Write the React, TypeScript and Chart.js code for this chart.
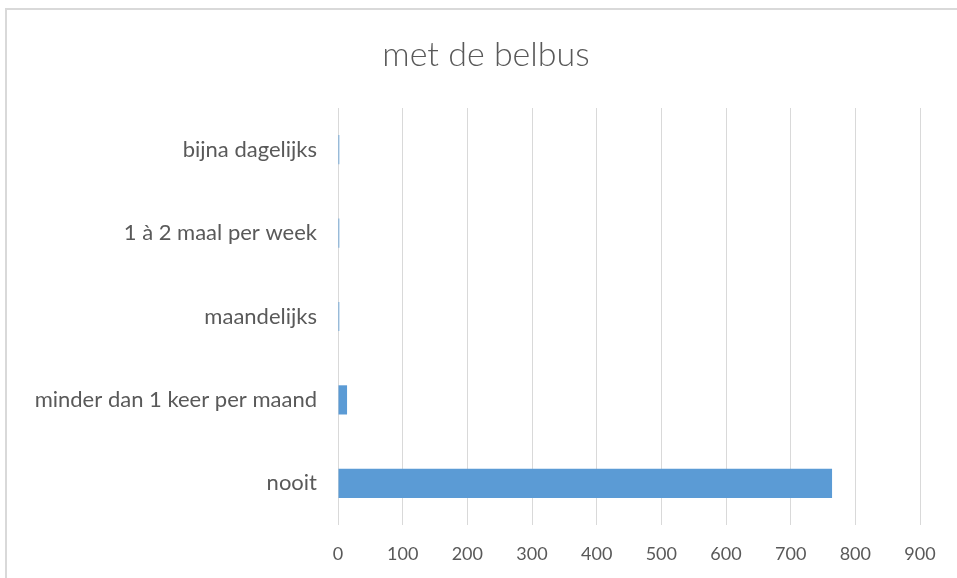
import React, { useEffect, useRef } from "react";
import { Chart, registerables } from "chart.js";

Chart.register(...registerables);

const title = "met de belbus";
const categories = [
  "bijna dagelijks",
  "1 à 2 maal per week",
  "maandelijks",
  "minder dan 1 keer per maand",
  "nooit",
];
const values = [2, 2, 2, 14, 764];
const xTicks = [0, 100, 200, 300, 400, 500, 600, 700, 800, 900];

const titlePlugin = {
  id: "customTitle",
  afterDraw(chart: any) {
    const ctx = chart.ctx;
    ctx.save();
    ctx.fillStyle = "#595959";
    ctx.font = "300 34px Lato";
    ctx.textAlign = "center";
    ctx.textBaseline = "middle";
    ctx.fillText(title, 486, 55);
    ctx.restore();
  },
};

export default function App() {
  const ref = useRef<HTMLCanvasElement | null>(null);

  useEffect(() => {
    if (!ref.current) return;
    const chart = new Chart(ref.current, {
      type: "bar",
      data: {
        labels: categories,
        datasets: [
          {
            data: values,
            backgroundColor: "#5B9BD5",
            borderWidth: 0,
            barPercentage: 0.35,
            categoryPercentage: 1,
          },
        ],
      },
      plugins: [titlePlugin],
      options: {
        indexAxis: "y",
        animation: false,
        responsive: false,
        maintainAspectRatio: false,
        layout: { padding: { top: 108, left: 10, right: 37, bottom: 0 } },
        plugins: {
          legend: { display: false },
          tooltip: { enabled: false },
          title: { display: false },
        },
        scales: {
          x: {
            min: 0,
            max: 900,
            afterBuildTicks: (s: any) => {
              s.ticks = xTicks.map((v) => ({ value: v }));
            },
            afterFit: (s: any) => {
              s.height = 578 - 525;
            },
            grid: { color: "#d9d9d9", lineWidth: 1, drawTicks: false },
            border: { display: false },
            ticks: {
              color: "#595959",
              padding: 18,
              font: { family: "Lato", size: 18 },
            },
          },
          y: {
            afterFit: (s: any) => {
              s.width = 338 - 10;
            },
            grid: { display: false, drawTicks: false },
            border: { display: false },
            ticks: {
              color: "#595959",
              padding: 21,
              font: { family: "Lato", size: 22 },
            },
          },
        },
      },
    });
    return () => chart.destroy();
  }, []);

  return (
    <div
      style={{
        position: "fixed",
        left: 0,
        top: 0,
        width: 957,
        height: 578,
        overflow: "hidden",
        background: "#fff",
      }}
    >
      <div
        style={{
          position: "absolute",
          left: 5,
          top: 8,
          width: 980,
          height: 600,
          borderLeft: "2px solid #d9d9d9",
          borderTop: "2px solid #d9d9d9",
        }}
      />
      <canvas
        ref={ref}
        width={957}
        height={578}
        style={{ position: "absolute", left: 0, top: 0 }}
      />
    </div>
  );
}
